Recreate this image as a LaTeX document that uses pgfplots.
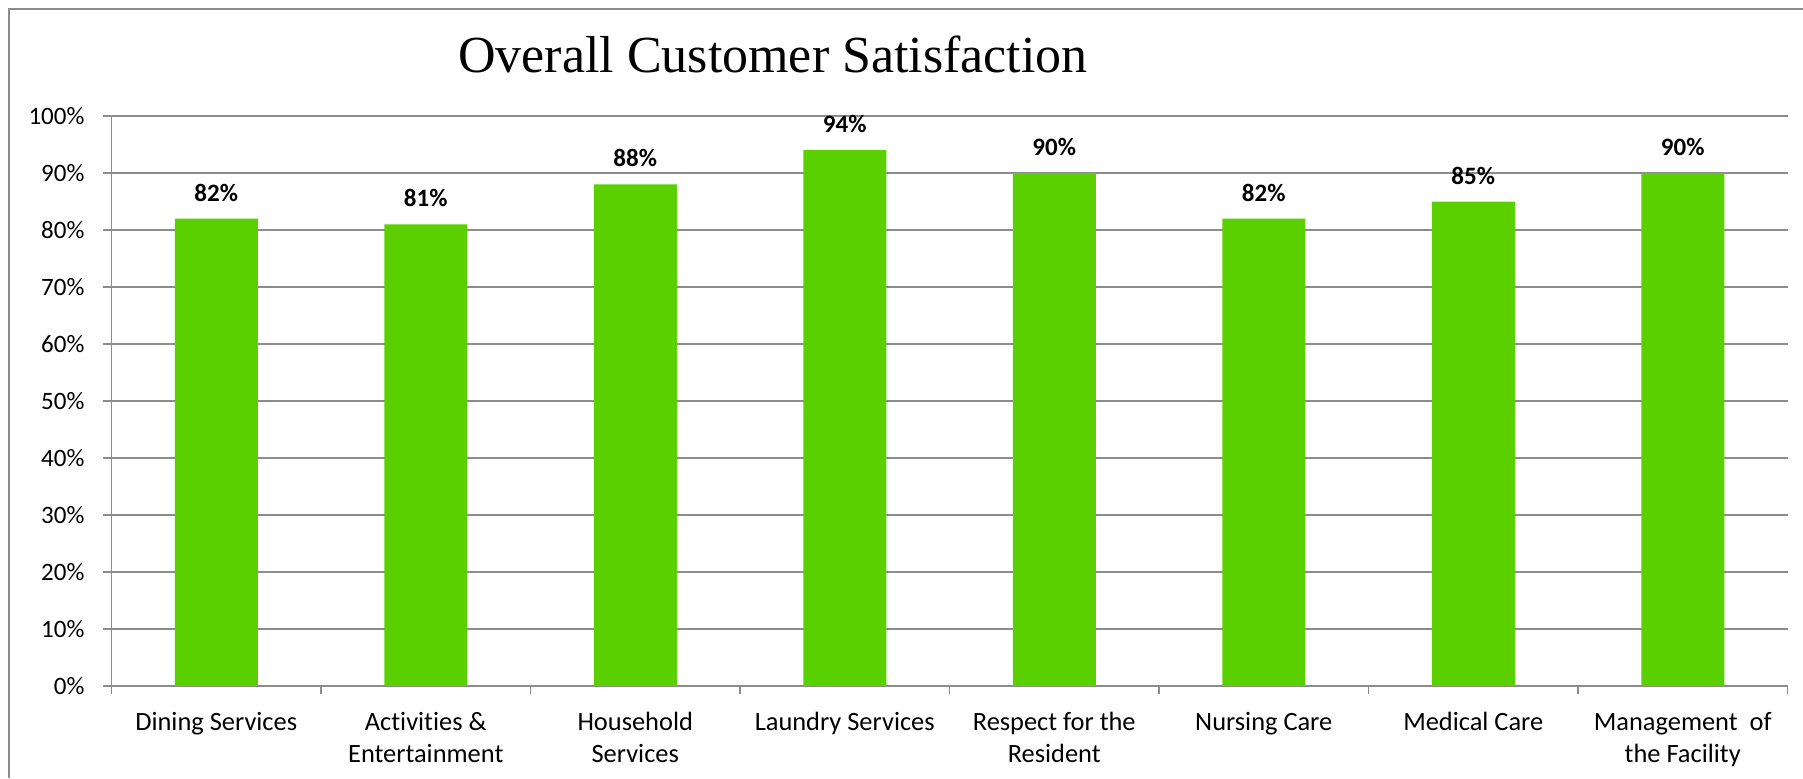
\documentclass[border=0pt]{standalone}
\usepackage{fontspec}
\setmainfont{Carlito}[Ligatures={NoCommon}]
\newfontfamily\titlefont{Liberation Serif}
\usepackage{pgfplots}
\pgfplotsset{compat=1.18}
\definecolor{bargreen}{RGB}{91,208,0}
\definecolor{gridgray}{RGB}{140,140,140}
\begin{document}
\begin{tikzpicture}
\useasboundingbox (0,0) rectangle (901.5pt,389pt);
\fill[white] (0,0) rectangle (901.5pt,389pt);
\draw[gridgray, line width=1pt] (4.5pt,0) -- (4.5pt,384.5pt) -- (901.5pt,384.5pt);
\node[font=\titlefont\fontsize{26}{30}\selectfont] at (386.5pt,362pt) {Overall Customer Satisfaction};
\begin{axis}[
  at={(55.75pt,46pt)}, anchor=south west,
  scale only axis, width=838pt, height=285pt,
  xmin=-0.5, xmax=7.5, ymin=0, ymax=100,
  axis x line*=bottom, axis y line*=left,
  axis line style={gridgray, line width=0.8pt},
  ytick={0,10,...,100},
  yticklabels={0\%,10\%,20\%,30\%,40\%,50\%,60\%,70\%,80\%,90\%,100\%},
  ymajorgrids, grid style={gridgray, line width=0.8pt},
  xtick={-0.5,0.5,...,7.5}, xticklabels={},
  major tick length=4pt,
  tick style={gridgray, line width=0.8pt},
  xtick align=outside, ytick align=outside,
  tick label style={font=\fontsize{12.5}{16}\selectfont},
  yticklabel style={xshift=-6pt},
  extra x ticks={0,1,2,3,4,5,6,7},
  extra x tick labels={Dining Services,Activities \&\\Entertainment,Household\\Services,Laundry Services,Respect for the\\Resident,Nursing Care,Medical Care,Management\ \ of\\the Facility},
  extra x tick style={major tick length=0pt, grid=none,
    xticklabel style={align=center, anchor=north, yshift=-9.5pt, font=\fontsize{13.2}{16}\selectfont}},
  ybar, bar width=41.5pt,
  nodes near coords={\pgfmathprintnumber[assume math mode=true]{\pgfplotspointmeta}\%},
  every node near coord/.append style={anchor=center, yshift=13pt, font=\bfseries\fontsize{12.5}{15}\selectfont, text=black},
  clip=false,
]
\addplot[fill=bargreen, draw=none] coordinates {(0,82) (1,81) (2,88) (3,94) (4,90) (5,82) (6,85) (7,90)};
\end{axis}
\end{tikzpicture}
\end{document}
